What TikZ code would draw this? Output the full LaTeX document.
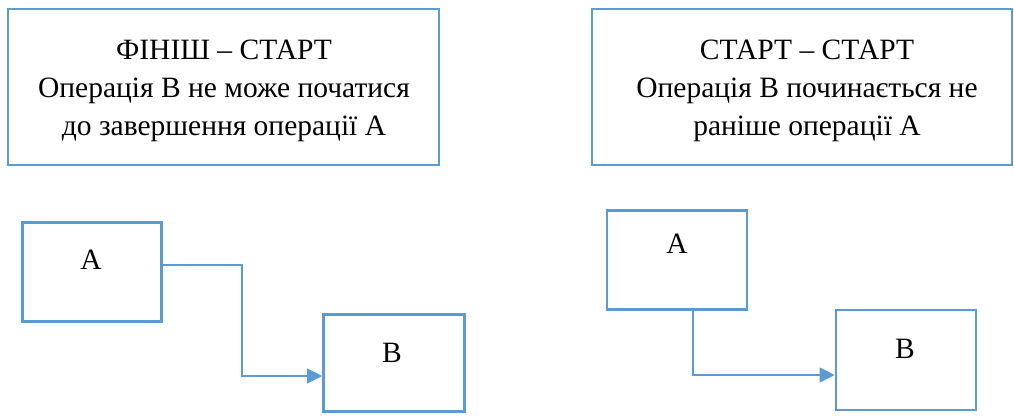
\documentclass[tikz,border=0pt]{standalone}
\usepackage{fontspec}
\setmainfont{Liberation Serif}
\usetikzlibrary{arrows.meta}
\definecolor{boxblue}{HTML}{5B9BD5}
\tikzset{
  frame/.style={draw=boxblue, line width=2.6pt, fill=white, inner sep=0pt},
  caption/.style={align=center, font=\fontsize{29.5}{38}\selectfont, inner sep=0pt},
  letter/.style={font=\fontsize{29.5}{34}\selectfont, inner sep=0pt},
  link/.style={draw=boxblue, line width=1.1pt, -{Triangle[length=15pt,width=15pt]}}
}
\begin{document}
\begin{tikzpicture}[x=1pt,y=-1pt]
\useasboundingbox (0,0) rectangle (1014,416);
% header boxes
\node[frame, minimum width=431pt, minimum height=156pt] (fsbox) at (223.5,87) {};
\node[caption] (fstext) at (224,91) {ФІНІШ – СТАРТ\\Операція В не може початися\\до завершення операції А};
\node[frame, minimum width=420pt, minimum height=156pt] (ssbox) at (802,87) {};
\node[caption] (sstext) at (807,91) {СТАРТ – СТАРТ\\Операція В починається не\\раніше операції А};
% finish-to-start pair
\node[frame, minimum width=139pt, minimum height=99pt] (fa) at (92,272) {};
\node[letter] (fal) at (91,260) {А};
\node[frame, minimum width=141pt, minimum height=97pt] (fb) at (394,363) {};
\node[letter] (fbl) at (392,353) {В};
\coordinate (fbend1) at (242,265);
\coordinate (fbend2) at (242,376);
\draw[link] (fa.east |- fbend1) -- (fbend1) -- (fbend2) -- (fbend2 -| fb.west);
% start-to-start pair
\node[frame, minimum width=140pt, minimum height=99pt] (sa) at (677,260) {};
\node[letter] (sal) at (677,244) {А};
\node[frame, minimum width=140pt, minimum height=100pt] (sb) at (906,360) {};
\node[letter] (sbl) at (905,349) {В};
\coordinate (sbend) at (693,375);
\draw[link] (sbend |- sa.south) -- (sbend) -- (sbend -| sb.west);
\end{tikzpicture}
\end{document}
